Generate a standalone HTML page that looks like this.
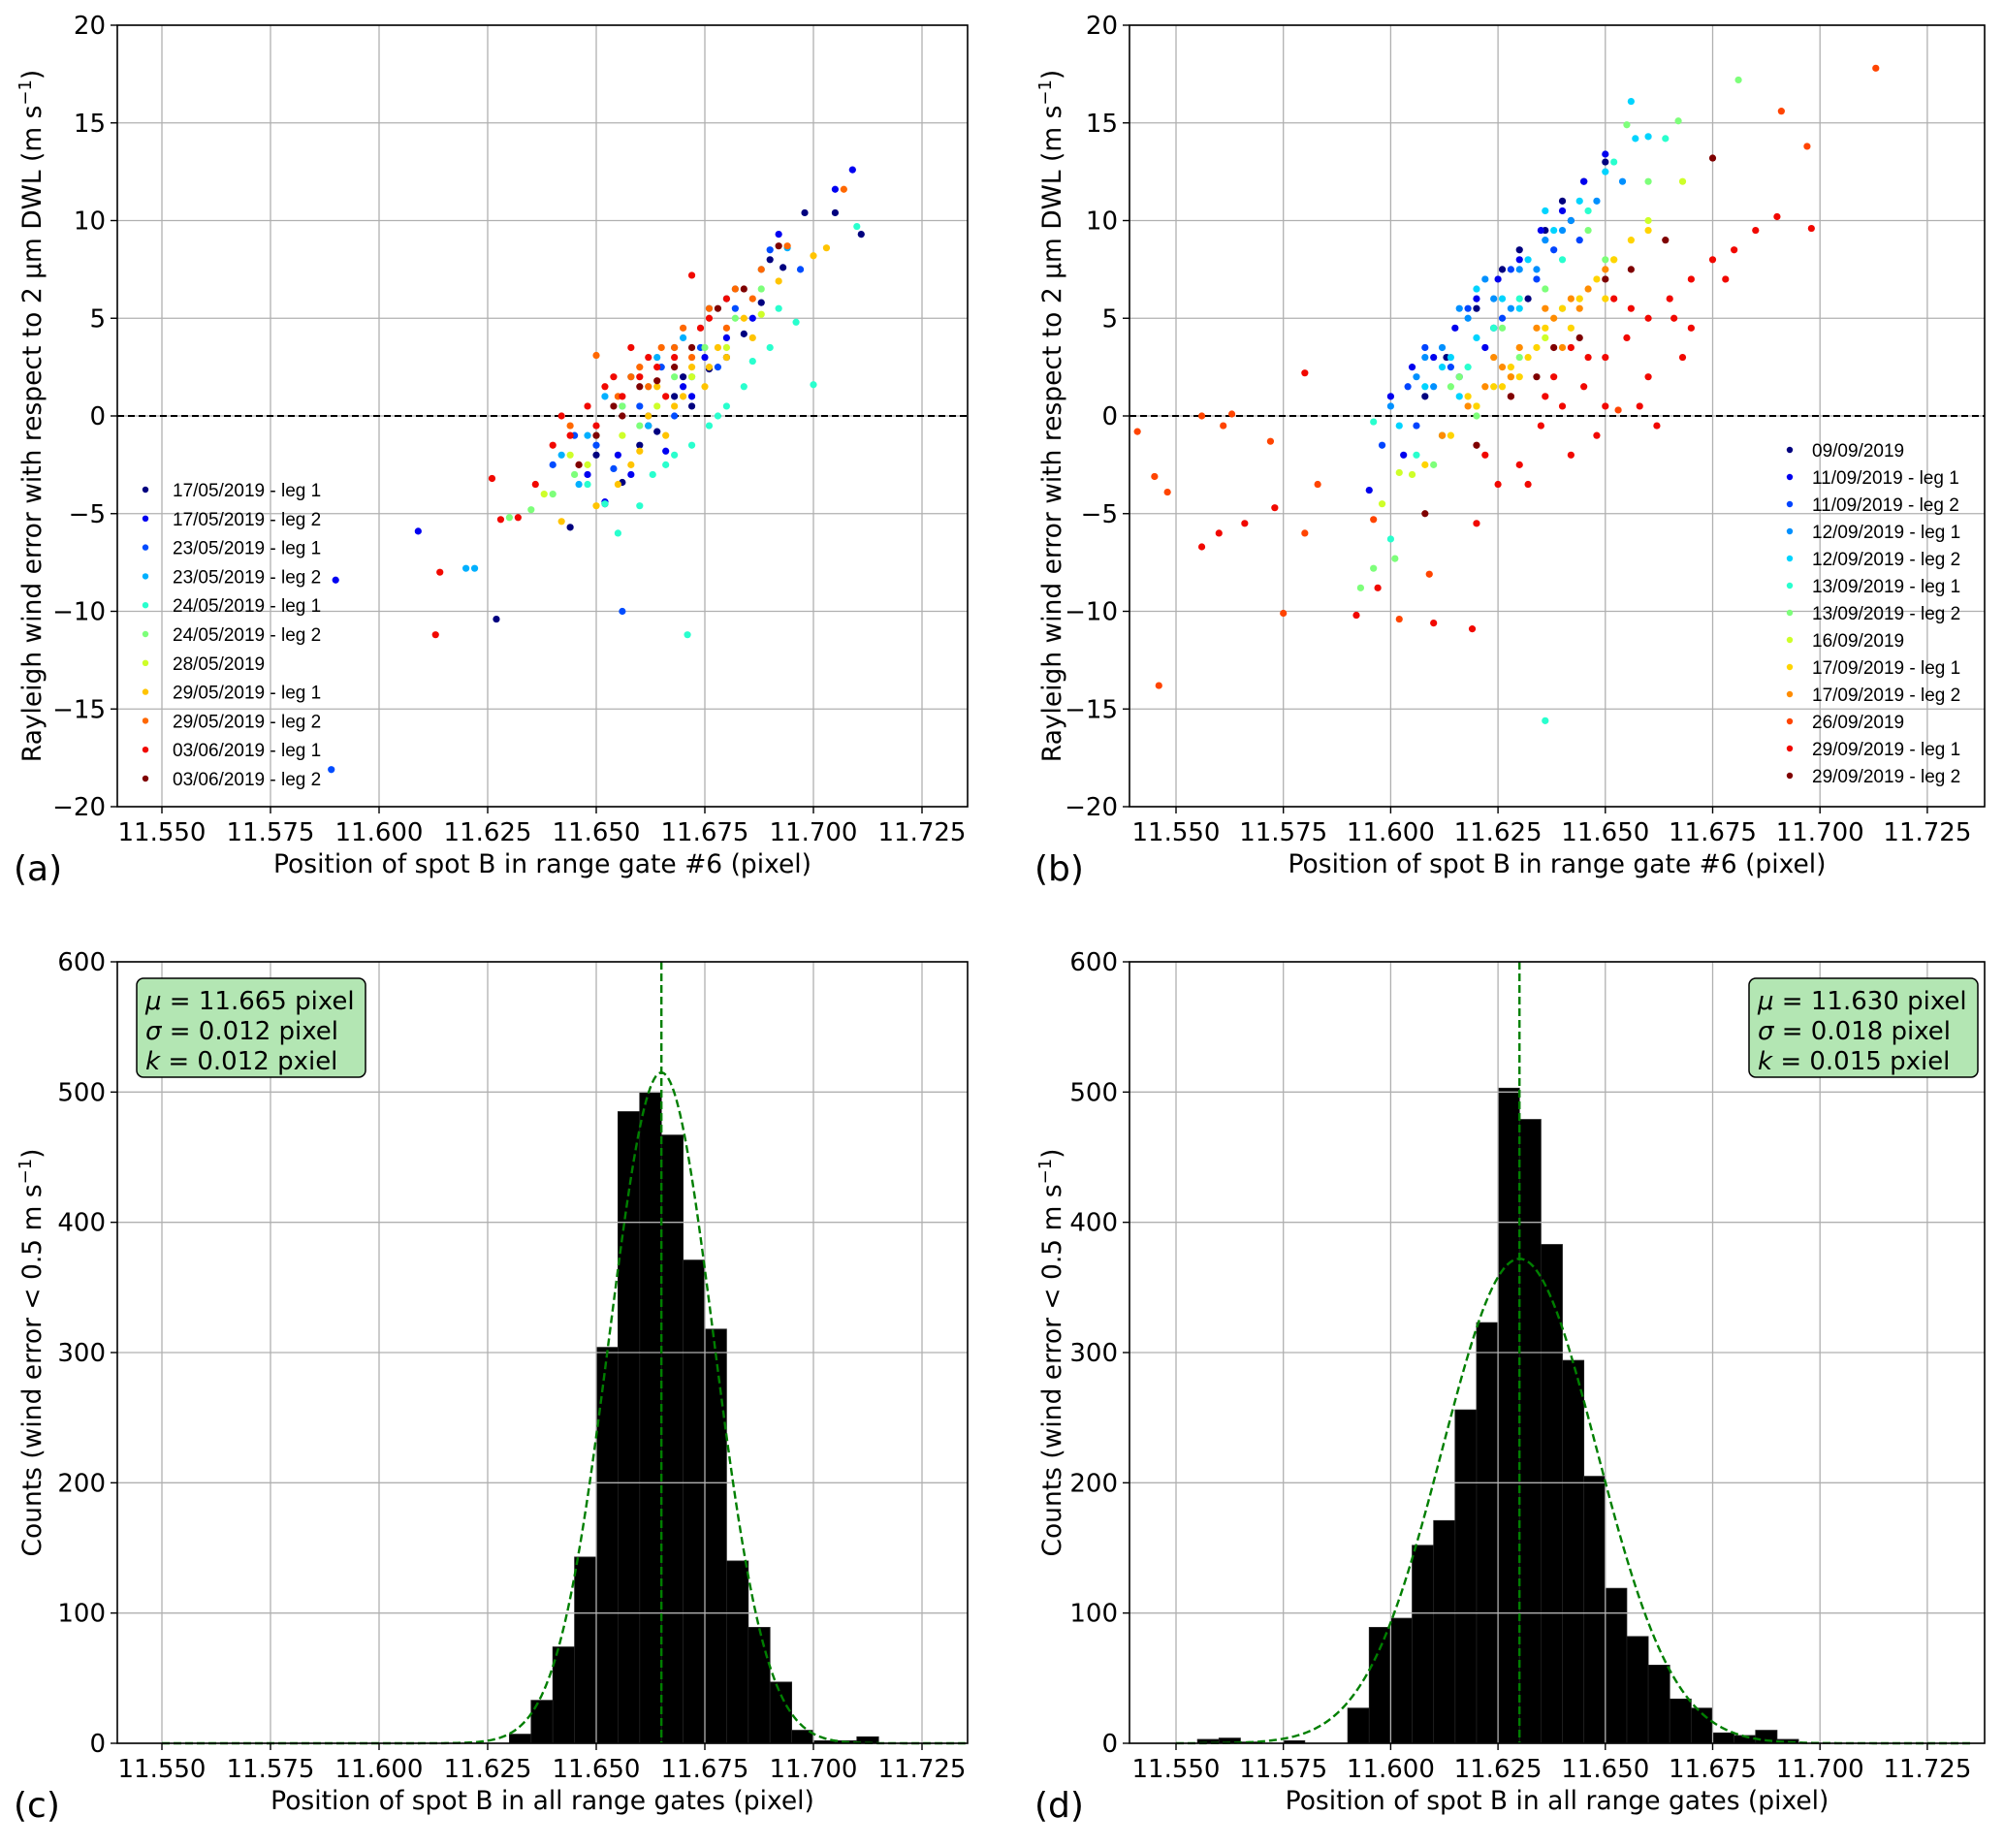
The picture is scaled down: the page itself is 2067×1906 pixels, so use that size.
<!DOCTYPE html>
<html><head><meta charset="utf-8"><style>
html,body{margin:0;padding:0;background:#fff}
svg text{font-family:"DejaVu Sans","Liberation Sans",sans-serif;fill:#000}
.leg{font-family:"Liberation Sans",sans-serif;font-size:19px}
</style></head><body>
<svg id="fig" xmlns="http://www.w3.org/2000/svg" width="2067" height="1901" viewBox="0 0 2067 1901"></svg>
<script>
// ---------- Data ----------
const legendA = ["17/05/2019 - leg 1","17/05/2019 - leg 2","23/05/2019 - leg 1","23/05/2019 - leg 2","24/05/2019 - leg 1","24/05/2019 - leg 2","28/05/2019","29/05/2019 - leg 1","29/05/2019 - leg 2","03/06/2019 - leg 1","03/06/2019 - leg 2"];
const colorsA = ["#00007f","#0000f1","#004cff","#00b0ff","#29ffce","#7dff7a","#ceff29","#ffc400","#ff6800","#f10800","#7f0000"];
const xsA = [
[11.644,11.652,11.660,11.668,11.672,11.680,11.688,11.693,11.698,11.705,11.711,11.627,11.656,11.664,11.676,11.684,11.650,11.670,11.690,11.662],
[11.590,11.609,11.648,11.655,11.662,11.670,11.675,11.680,11.686,11.692,11.709,11.705,11.652,11.666,11.658,11.672],
[11.589,11.656,11.640,11.650,11.660,11.665,11.674,11.682,11.690,11.645,11.668,11.678,11.697,11.654],
[11.620,11.622,11.642,11.648,11.652,11.658,11.664,11.670,11.676,11.682,11.688,11.694,11.646,11.662,11.672,11.656,11.668,11.680],
[11.671,11.655,11.660,11.666,11.672,11.678,11.684,11.690,11.696,11.700,11.710,11.648,11.652,11.676,11.686,11.663,11.668,11.680,11.692],
[11.635,11.640,11.645,11.650,11.656,11.662,11.668,11.675,11.682,11.688,11.630,11.660],
[11.638,11.648,11.656,11.664,11.672,11.680,11.688,11.644],
[11.642,11.650,11.655,11.660,11.666,11.670,11.675,11.680,11.686,11.692,11.700,11.703,11.662,11.672,11.658,11.668,11.678,11.664,11.676,11.684],
[11.650,11.655,11.660,11.665,11.670,11.676,11.682,11.688,11.694,11.707,11.644,11.662,11.672,11.680,11.658,11.668,11.686],
[11.613,11.614,11.626,11.628,11.632,11.636,11.640,11.644,11.648,11.652,11.656,11.660,11.664,11.668,11.672,11.676,11.680,11.646,11.650,11.658,11.642,11.654,11.662,11.666,11.674],
[11.646,11.650,11.656,11.660,11.664,11.668,11.672,11.678,11.684,11.692,11.654]];
const ysA = [
[-5.7,-4.5,-1.5,1.0,0.5,3.0,5.8,7.6,10.4,10.4,9.3,-10.4,-3.4,-0.8,2.4,4.2,-2.0,2.0,8.0,-0.5],
[-8.4,-5.9,-3.0,-2.0,0.0,1.5,3.0,4.0,5.0,9.3,12.6,11.6,-4.4,-1.8,-3.0,1.0],
[-18.1,-10.0,-2.5,-1.5,0.5,2.5,3.5,5.5,8.5,-1.0,0.0,2.5,7.5,-2.7],
[-7.8,-7.8,-2.0,-1.0,1.0,2.0,3.0,4.0,5.5,6.5,7.5,8.6,-3.5,-0.5,2.0,0.5,3.5,6.0],
[-11.2,-6.0,-4.6,-2.5,-1.5,0.0,1.5,3.5,4.8,1.6,9.7,-3.5,-4.5,-0.5,2.8,-3.0,-2.0,0.5,5.5],
[-4.8,-4.0,-3.0,-1.0,0.5,1.5,2.0,3.5,5.0,6.5,-5.2,-0.5],
[-4.0,-2.5,-1.0,0.5,2.0,3.5,5.2,-2.0],
[-5.4,-4.6,-3.5,-1.8,-1.0,1.0,1.5,3.0,4.0,6.9,8.2,8.6,0.0,2.5,-2.5,0.5,3.5,1.5,2.5,5.0],
[3.1,1.0,2.5,3.5,4.5,5.5,6.5,7.5,8.7,11.6,-0.5,1.5,3.0,4.5,2.0,3.5,6.0],
[-11.2,-8.0,-3.2,-5.3,-5.2,-3.5,-1.5,-1.0,0.5,1.5,1.0,2.0,2.5,3.0,7.2,5.0,6.0,-2.5,-0.5,3.5,0.0,2.0,3.0,1.0,4.5],
[-2.5,-1.0,0.0,1.5,1.8,2.5,3.5,5.5,6.5,8.7,0.5]];

const legendB = ["09/09/2019","11/09/2019 - leg 1","11/09/2019 - leg 2","12/09/2019 - leg 1","12/09/2019 - leg 2","13/09/2019 - leg 1","13/09/2019 - leg 2","16/09/2019","17/09/2019 - leg 1","17/09/2019 - leg 2","26/09/2019","29/09/2019 - leg 1","29/09/2019 - leg 2"];
const colorsB = ["#00007f","#0000ee","#0044ff","#0090ff","#00d4ff","#29ffce","#7dff7a","#ceff29","#ffd400","#ff8c00","#ff4400","#f10800","#7f0000"];
const xsB = [
[11.613,11.620,11.626,11.630,11.636,11.640,11.645,11.650,11.608,11.632,11.642],
[11.595,11.600,11.605,11.610,11.615,11.620,11.625,11.630,11.635,11.640,11.645,11.650,11.612,11.622,11.603],
[11.598,11.604,11.608,11.614,11.618,11.624,11.628,11.634,11.638,11.644,11.606,11.616,11.626],
[11.600,11.606,11.612,11.618,11.624,11.630,11.636,11.642,11.648,11.654,11.610,11.628,11.608,11.616,11.622,11.634,11.640],
[11.602,11.608,11.614,11.620,11.626,11.632,11.638,11.644,11.650,11.656,11.657,11.660,11.616,11.630,11.612,11.620,11.636],
[11.636,11.600,11.606,11.612,11.618,11.624,11.630,11.640,11.646,11.652,11.664,11.596],
[11.593,11.596,11.601,11.610,11.620,11.630,11.640,11.650,11.655,11.660,11.667,11.681,11.614,11.626,11.616,11.636,11.646],
[11.598,11.605,11.612,11.620,11.628,11.636,11.644,11.652,11.660,11.668,11.602],
[11.608,11.614,11.620,11.624,11.628,11.632,11.636,11.640,11.644,11.648,11.652,11.656,11.660,11.618,11.630,11.626,11.634,11.642,11.650],
[11.612,11.618,11.622,11.626,11.630,11.634,11.638,11.642,11.646,11.650,11.624,11.636,11.628,11.640,11.644],
[11.541,11.545,11.546,11.548,11.556,11.561,11.563,11.572,11.575,11.580,11.583,11.596,11.602,11.609,11.653,11.691,11.697,11.713],
[11.556,11.560,11.566,11.573,11.580,11.592,11.597,11.610,11.619,11.620,11.625,11.630,11.635,11.640,11.645,11.650,11.655,11.660,11.665,11.670,11.675,11.680,11.685,11.690,11.698,11.628,11.638,11.648,11.658,11.668,11.622,11.642,11.652,11.662,11.632,11.642,11.650,11.660,11.670,11.636,11.646,11.656,11.666,11.678],
[11.608,11.620,11.628,11.634,11.638,11.644,11.650,11.656,11.664,11.675]];
const ysB = [
[3.0,5.5,7.5,8.5,9.5,11.0,12.0,13.0,1.0,6.0,10.0],
[-3.8,1.0,2.5,3.0,4.5,6.0,7.0,8.0,9.5,10.5,12.0,13.4,-1.0,3.5,-2.0],
[-1.5,1.5,3.5,2.5,5.5,4.5,7.5,7.0,8.5,9.0,-0.5,2.0,5.0],
[0.5,2.0,3.5,5.0,6.0,7.5,9.0,10.0,11.0,12.0,1.5,5.5,3.0,5.5,7.0,7.5,9.5],
[-0.5,1.5,3.0,4.0,6.0,8.0,9.5,11.0,12.5,16.1,14.2,14.3,1.0,5.5,2.5,6.5,10.5],
[-15.6,-6.3,-2.0,-1.0,2.5,4.5,6.0,8.0,10.5,13.0,14.2,-0.3],
[-8.8,-7.8,-7.3,-2.5,0.0,3.0,5.5,8.0,14.9,12.0,15.1,17.2,1.5,4.5,2.0,6.5,9.5],
[-4.5,-3.0,-1.0,0.5,2.0,4.0,6.0,8.0,10.0,12.0,-2.9],
[-2.5,-1.0,0.5,1.5,2.5,3.0,4.5,5.5,6.0,7.0,8.0,9.0,9.5,1.0,2.0,1.5,3.5,4.5,6.0],
[-1.0,0.5,1.5,2.5,3.5,4.5,5.0,6.0,6.5,7.5,3.0,5.5,2.0,3.5,5.5],
[-0.8,-3.1,-13.8,-3.9,0.0,-0.5,0.1,-1.3,-10.1,-6.0,-3.5,-5.3,-10.4,-8.1,0.3,15.6,13.8,17.8],
[-6.7,-6.0,-5.5,-4.7,2.2,-10.2,-8.8,-10.6,-10.9,-5.5,-3.5,-2.5,-0.5,0.5,1.5,3.0,4.0,5.0,6.0,7.0,8.0,8.5,9.5,10.2,9.6,1.0,2.0,-1.0,0.5,3.0,-2.0,3.5,6.0,-0.5,-3.5,-2.0,0.5,2.0,4.5,1.0,3.0,5.5,5.0,7.0],
[-5.0,-1.5,1.0,2.0,3.5,4.0,7.0,7.5,9.0,13.2]];

const binStartsC = [11.630,11.635,11.640,11.645,11.650,11.655,11.660,11.665,11.670,11.675,11.680,11.685,11.690,11.695,11.700,11.705,11.710];
const countsC = [7,33,74,143,304,485,500,467,371,318,140,89,47,10,2,2,5];
const binStartsD = [11.555,11.560,11.565,11.575,11.590,11.595,11.600,11.605,11.610,11.615,11.620,11.625,11.630,11.635,11.640,11.645,11.650,11.655,11.660,11.665,11.670,11.675,11.680,11.685,11.690];
const countsD = [3,4,1,2,27,89,96,152,171,256,323,503,479,383,294,205,119,82,60,34,27,8,6,10,3];
const binWidth = 0.005;
const fitC = {mu:11.665, sigma:0.012, peak:515};
const fitD = {mu:11.630, sigma:0.018, peak:372};
const xTicks = [11.550,11.575,11.600,11.625,11.650,11.675,11.700,11.725];
const yTicksScatter = [-20,-15,-10,-5,0,5,10,15,20];
const yTicksHist = [0,100,200,300,400,500,600];

// ---------- Helpers ----------
const svg = document.getElementById('fig');
const NS = 'http://www.w3.org/2000/svg';
function mk(tag, attrs, parent){ const e=document.createElementNS(NS,tag); for(const k in attrs) e.setAttribute(k,attrs[k]); (parent||svg).appendChild(e); return e; }
function fmtY(v){ return (v<0?'\u2212':'')+Math.abs(v); }

function makeAxes(o){
  const ax = {
    x: v => o.x0px + (v-11.55)*o.xPerUnit,
    y: v => o.bottom - (v-o.yMin)/(o.yMax-o.yMin)*(o.bottom-o.top)
  };
  ax.o=o; return ax;
}
function drawGrid(ax, yTicks, g){
  const o=ax.o;
  xTicks.forEach(t=>{ const l=mk('line',{x1:ax.x(t),x2:ax.x(t),y1:o.top,y2:o.bottom,stroke:'#b0b0b0','stroke-width':1.3},g);
      });
  yTicks.forEach(t=>{ const l=mk('line',{x1:o.left,x2:o.right,y1:ax.y(t),y2:ax.y(t),stroke:'#b0b0b0','stroke-width':1.3},g);
      });
}
function drawFrame(ax, yTicks, g, yfmt, xlab, ylab, ylabX, panel){
  const o=ax.o;
  const r=mk('rect',{x:o.left,y:o.top,width:o.right-o.left,height:o.bottom-o.top,fill:'none',stroke:'#000','stroke-width':1.6},g);
   
  xTicks.forEach(t=>{
    mk('line',{x1:ax.x(t),x2:ax.x(t),y1:o.bottom,y2:o.bottom+7,stroke:'#000','stroke-width':1.4},g);
    const tx=mk('text',{x:ax.x(t),y:o.bottom+35,'text-anchor':'middle','font-size':26},g);
    tx.textContent=t.toFixed(3);
     
  });
  yTicks.forEach(t=>{
    mk('line',{x1:o.left-7,x2:o.left,y1:ax.y(t),y2:ax.y(t),stroke:'#000','stroke-width':1.4},g);
    const tx=mk('text',{x:o.left-12,y:ax.y(t)+9,'text-anchor':'end','font-size':26},g);
    tx.textContent=yfmt(t);
     
  });
  const xl=mk('text',{x:(o.left+o.right)/2,y:o.bottom+68,'text-anchor':'middle','font-size':26.5},g);
  xl.textContent=xlab;
   
  const cy=(o.top+o.bottom)/2;
  const yl=mk('text',{x:ylabX,y:cy,'text-anchor':'middle','font-size':26.5,transform:`rotate(-90 ${ylabX} ${cy}) translate(0 9)`},g);
  yl.innerHTML=ylab;
   
  const pl=mk('text',{x:panel.x,y:o.bottom+76,'font-size':36,'font-family':'Liberation Sans'},g);
  pl.textContent=panel.t;
   
}

const ylabScatter = 'Rayleigh wind error with respect to 2 μm DWL (m s<tspan font-size="18" dy="-10">−1</tspan><tspan dy="10">)</tspan>';
const ylabHist = 'Counts (wind error &lt; 0.5 m s<tspan font-size="18" dy="-10">−1</tspan><tspan dy="10">)</tspan>';

function scatterPanel(name, ax, xs, ys, colors, labels, leg, xlab, ylabX, panel){
  const g=mk('g',{});
   
  drawGrid(ax, yTicksScatter, g);
  const o=ax.o;
  const z=mk('line',{x1:o.left,x2:o.right,y1:ax.y(0),y2:ax.y(0),stroke:'#000','stroke-width':2,'stroke-dasharray':'7,4'},g);
   
  xs.forEach((arr,si)=>{
    arr.forEach((xv,i)=>{
      const c=mk('circle',{cx:ax.x(xv),cy:ax.y(ys[si][i]),r:3.6,fill:colors[si]},g);
       
    });
  });
  labels.forEach((lab,i)=>{
    const yy=leg.y0+i*leg.dy;
    const m=mk('circle',{cx:leg.mx,cy:yy,r:3.2,fill:colors[i]},g);
     
    const t=mk('text',{x:leg.tx,y:yy+7,class:'leg'},g);
    t.textContent=lab;
     
  });
  drawFrame(ax, yTicksScatter, g, fmtY, xlab, ylabScatter, ylabX, panel);
}

function histPanel(name, ax, starts, counts, fit, box, ylabX, panel){
  const g=mk('g',{});
   
  const o=ax.o;
  starts.forEach((s,i)=>{
    const x1=ax.x(s), x2=ax.x(s+binWidth), y=ax.y(counts[i]);
    const b=mk('rect',{x:x1,y:y,width:x2-x1,height:ax.y(0)-y,fill:'#000',stroke:'#222','stroke-width':0.8},g);
     
  });
  drawGrid(ax, yTicksHist, g);
  let d='';
  for(let k=0;k<=400;k++){
    const xv=11.55+ (k/400)*(11.735-11.55);
    const yv=fit.peak*Math.exp(-0.5*Math.pow((xv-fit.mu)/fit.sigma,2));
    d+=(k?'L':'M')+ax.x(xv).toFixed(2)+','+ax.y(yv).toFixed(2);
  }
  const p=mk('path',{d:d,fill:'none',stroke:'#007f00','stroke-width':2.4,'stroke-dasharray':'8,4'},g);
   
  const v=mk('line',{x1:ax.x(fit.mu),x2:ax.x(fit.mu),y1:o.top,y2:o.bottom,stroke:'#007f00','stroke-width':2.4,'stroke-dasharray':'8,4'},g);
   
  const bx=mk('rect',{x:box.x,y:box.y,width:box.w,height:box.h,rx:7,fill:'#b3e6b3',stroke:'#000','stroke-width':1.5},g);
   
  box.lines.forEach((ln,i)=>{
    const t=mk('text',{x:box.x+9,y:box.y+32+i*31,'font-size':26},g);
    t.innerHTML=ln;
     
  });
  drawFrame(ax, yTicksHist, g, v=>String(v), 'Position of spot B in all range gates (pixel)', ylabHist, ylabX, panel);
}

// ---------- Panels ----------
const axA = makeAxes({left:121,right:998,top:26,bottom:832,x0px:167,xPerUnit:4480,yMin:-20,yMax:20});
const axB = makeAxes({left:1165,right:2047,top:26,bottom:832,x0px:1213,xPerUnit:4428,yMin:-20,yMax:20});
const axC = makeAxes({left:121,right:998,top:992,bottom:1798,x0px:167,xPerUnit:4480,yMin:0,yMax:600});
const axD = makeAxes({left:1165,right:2047,top:992,bottom:1798,x0px:1213,xPerUnit:4428,yMin:0,yMax:600});

scatterPanel('scatter-panel-a', axA, xsA, ysA, colorsA, legendA, {y0:505,dy:29.8,mx:150,tx:178},
  'Position of spot B in range gate #6 (pixel)', 33, {x:14,t:'(a)'});
scatterPanel('scatter-panel-b', axB, xsB, ysB, colorsB, legendB, {y0:464,dy:28,mx:1846,tx:1869},
  'Position of spot B in range gate #6 (pixel)', 1085, {x:1067,t:'(b)'});
histPanel('histogram-panel-c', axC, binStartsC, countsC, fitC,
  {x:141,y:1009,w:236,h:102,lines:['<tspan font-style="italic">μ</tspan> = 11.665 pixel','<tspan font-style="italic">σ</tspan> = 0.012 pixel','<tspan font-style="italic">k</tspan> = 0.012 pxiel']}, 33, {x:14,t:'(c)'});
histPanel('histogram-panel-d', axD, binStartsD, countsD, fitD,
  {x:1804,y:1009,w:236,h:102,lines:['<tspan font-style="italic">μ</tspan> = 11.630 pixel','<tspan font-style="italic">σ</tspan> = 0.018 pixel','<tspan font-style="italic">k</tspan> = 0.015 pxiel']}, 1085, {x:1067,t:'(d)'});
</script>
</body></html>
